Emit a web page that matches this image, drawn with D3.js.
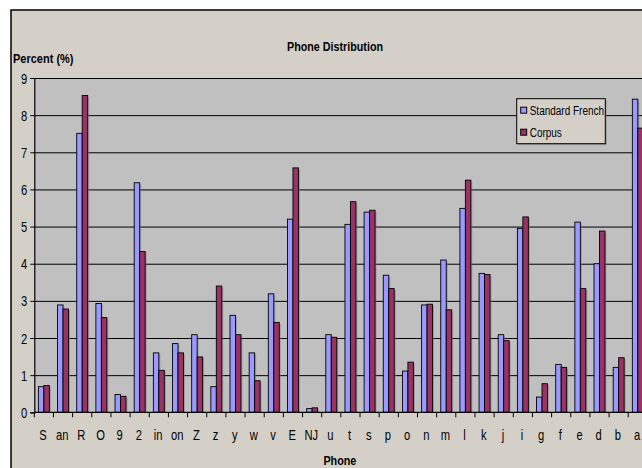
<!DOCTYPE html>
<html>
<head>
<meta charset="utf-8">
<script src="https://cdn.jsdelivr.net/npm/d3@7"></script>
<style>
  html, body { margin: 0; padding: 0; background: #fff; overflow: hidden; }
  text { font-family: "Liberation Sans", Arial, sans-serif; }
</style>
</head>
<body>
<div id="chart"></div>
<script>
// phone labels, in the order they appear along the x axis
var phones = ["S", "an", "R", "O", "9", "2", "in", "on", "Z", "z", "y", "w", "v", "E", "NJ",
  "u", "t", "s", "p", "o", "n", "m", "l", "k", "j", "i", "g", "f", "e", "d", "b", "a"];

// percent values
var standardFrench = [0.69, 2.89, 7.51, 2.93, 0.48, 6.18, 1.60, 1.85, 2.09, 0.69, 2.61, 1.60, 3.19, 5.20, 0.10,
  2.09, 5.06, 5.39, 3.69, 1.11, 2.89, 4.10, 5.49, 3.74, 2.09, 4.95, 0.41, 1.29, 5.12, 4.00, 1.21, 8.43];
var corpus = [0.72, 2.78, 8.53, 2.55, 0.43, 4.33, 1.13, 1.60, 1.49, 3.40, 2.09, 0.85, 2.42, 6.58, 0.12,
  2.02, 5.67, 5.44, 3.33, 1.35, 2.91, 2.76, 6.25, 3.71, 1.93, 5.26, 0.77, 1.21, 3.33, 4.88, 1.47, 7.65];

var seriesNames = ["Standard French", "Corpus"];
var seriesColors = ["#9999ff", "#993366"];
var yTicks = [0, 1, 2, 3, 4, 5, 6, 7, 8, 9];

var width = 642, height = 468;
var plot = {left: 34.3, right: 647.4, top: 78, bottom: 412.3};

var svg = d3.select("#chart").append("svg")
    .attr("width", width)
    .attr("height", height);

// the original text is squeezed sideways, so squash glyphs horizontally
function squeeze(sel, sx) {
  sel.each(function() {
    var t = d3.select(this);
    var px = +t.attr("x") || 0, py = +t.attr("y") || 0;
    t.attr("x", 0).attr("y", 0)
     .attr("transform", "translate(" + px + "," + py + ") scale(" + sx + ",1)");
  });
}

// chart area (runs past the right/bottom edge, like the screenshot)
svg.append("rect")
    .attr("x", 11).attr("y", 10)
    .attr("width", 660).attr("height", 480)
    .attr("fill", "#d4d0c8")
    .attr("stroke", "#000")
    .attr("stroke-width", 1.5);

var x = d3.scaleBand()
    .domain(phones)
    .range([plot.left, plot.right]);

var y = d3.scaleLinear()
    .domain([0, 9])
    .range([plot.bottom, plot.top]);

// bars take 2/3.5 of each band (Excel gap width 150%)
var barW = x.bandwidth() / 3.5;
var xs = d3.scaleBand()
    .domain([0, 1])
    .range([x.bandwidth() * 0.75 / 3.5, x.bandwidth() * 2.75 / 3.5]);

// plot area
svg.append("rect")
    .attr("x", plot.left).attr("y", plot.top)
    .attr("width", plot.right - plot.left)
    .attr("height", plot.bottom - plot.top)
    .attr("fill", "#c0c0c0");

// gridlines
svg.append("g")
    .attr("transform", "translate(" + plot.left + ",0)")
    .call(d3.axisLeft(y).tickValues(yTicks.slice(1)).tickSize(-(plot.right - plot.left)).tickFormat(""))
    .call(function(g) {
      g.select(".domain").remove();
      g.selectAll("line").attr("stroke", "#000").attr("stroke-width", 1);
    });

// bars
var rows = phones.map(function(p, i) { return {phone: p, values: [standardFrench[i], corpus[i]]}; });

var group = svg.append("g").selectAll("g.bin")
    .data(rows)
  .enter().append("g")
    .attr("class", "bin")
    .attr("transform", function(d) { return "translate(" + x(d.phone) + ",0)"; });

var bar = group.selectAll("g.bar")
    .data(function(d) { return d.values.map(function(v, k) { return {k: k, v: v}; }); })
  .enter().append("g")
    .attr("class", "bar");

// soft shadow
bar.append("rect")
    .attr("x", function(d) { return xs(d.k) + 1.5; })
    .attr("y", function(d) { return y(d.v) + 1.5; })
    .attr("width", barW)
    .attr("height", function(d) { return Math.max(0, y(0) - y(d.v) - 1.5); })
    .attr("fill", "#808080")
    .attr("opacity", 0.55);

bar.append("rect")
    .attr("x", function(d) { return xs(d.k); })
    .attr("y", function(d) { return y(d.v); })
    .attr("width", barW)
    .attr("height", function(d) { return y(0) - y(d.v); })
    .attr("fill", function(d) { return seriesColors[d.k]; })
    .attr("stroke", "#000")
    .attr("stroke-width", 0.9);

// y axis
svg.append("g")
    .attr("transform", "translate(" + plot.left + ",0)")
    .call(d3.axisLeft(y).tickValues(yTicks).tickSize(4).tickPadding(0).tickFormat(d3.format("d")))
    .call(function(g) {
      g.select(".domain").attr("stroke", "#000").attr("stroke-width", 1.2);
      g.selectAll("line").attr("stroke", "#000");
      g.selectAll("text").attr("font-size", 14).attr("fill", "#000")
        .attr("font-family", "'Liberation Sans', Arial, sans-serif")
        .attr("dy", null).attr("x", -9).attr("y", 5)
        .attr("transform", "scale(0.8,1)");
    });

// x axis: ticks sit between categories
var xAxis = svg.append("g")
    .attr("transform", "translate(0," + plot.bottom + ")");
xAxis.append("line")
    .attr("x1", plot.left).attr("x2", plot.right)
    .attr("stroke", "#000").attr("stroke-width", 1.2);
xAxis.selectAll("line.tick")
    .data(phones)
  .enter().append("line")
    .attr("class", "tick")
    .attr("x1", function(d) { return x(d); })
    .attr("x2", function(d) { return x(d); })
    .attr("y1", 0).attr("y2", 5)
    .attr("stroke", "#000");
xAxis.selectAll("text")
    .data(phones)
  .enter().append("text")
    .attr("x", function(d) { return x(d) + x.bandwidth() / 2 - 0.8; })
    .attr("y", 27.7)
    .attr("text-anchor", "middle")
    .attr("font-size", 14)
    .attr("fill", "#000")
    .text(function(d) { return d; })
    .call(squeeze, 0.8);

// titles
svg.append("text")
    .attr("x", 335).attr("y", 50.5)
    .attr("text-anchor", "middle")
    .attr("font-size", 12.5)
    .attr("font-weight", "bold")
    .text("Phone Distribution")
    .call(squeeze, 0.86);

svg.append("text")
    .attr("x", 13).attr("y", 63)
    .attr("font-size", 12.5)
    .attr("font-weight", "bold")
    .text("Percent (%)")
    .call(squeeze, 0.88);

svg.append("text")
    .attr("x", (plot.left + plot.right) / 2 - 1).attr("y", 465)
    .attr("text-anchor", "middle")
    .attr("font-size", 13)
    .attr("font-weight", "bold")
    .text("Phone")
    .call(squeeze, 0.83);

// legend
var legend = svg.append("g")
    .attr("transform", "translate(516.7,98.7)");
legend.append("rect")
    .attr("x", 1.5).attr("y", 1.5)
    .attr("width", 88.6).attr("height", 45)
    .attr("fill", "#808080").attr("opacity", 0.5);
legend.append("rect")
    .attr("width", 88.6).attr("height", 45)
    .attr("fill", "#d4d0c8")
    .attr("stroke", "#000");

var item = legend.selectAll("g.item")
    .data(seriesNames)
  .enter().append("g")
    .attr("class", "item")
    .attr("transform", function(d, i) { return "translate(4," + (11.5 + i * 22) + ")"; });
item.append("rect")
    .attr("x", 0).attr("y", -3)
    .attr("width", 6).attr("height", 6)
    .attr("fill", function(d, i) { return seriesColors[i]; })
    .attr("stroke", "#000");
item.append("text")
    .attr("x", 9).attr("y", 5)
    .attr("font-size", 13.5)
    .text(function(d) { return d; })
    .call(squeeze, 0.74);
</script>
</body>
</html>
